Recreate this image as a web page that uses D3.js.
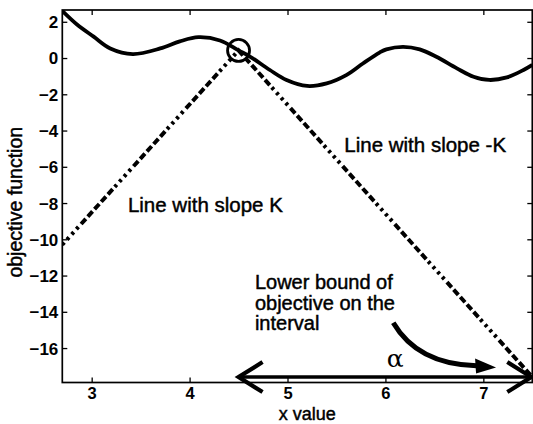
<!DOCTYPE html>
<html>
<head>
<meta charset="utf-8">
<script src="https://cdn.jsdelivr.net/npm/d3@7/dist/d3.min.js"></script>
<style>
  html, body { margin: 0; padding: 0; background: #fff; }
  svg { display: block; }
  text { font-family: "Liberation Sans", Arial, Helvetica, sans-serif; fill: #000; }
  .heavy { stroke: #000; stroke-width: 0.45px; }
</style>
</head>
<body>
<svg id="chart" width="533" height="424"></svg>
<script>
// ---- data ----
const curveX = [2.7, 2.85, 3.02, 3.19, 3.42, 3.7, 3.9, 4.09, 4.31, 4.5, 4.62, 4.82, 4.99, 5.2, 5.4, 5.6, 5.77, 5.94, 6.01, 6.18, 6.35, 6.52, 6.73, 6.9, 7.06, 7.24, 7.41, 7.5];
const curveY = [2.6, 1.85, 1.18, 0.53, 0.22, 0.53, 0.92, 1.15, 0.97, 0.42, 0.07, -0.66, -1.21, -1.54, -1.40, -0.94, -0.30, 0.30, 0.48, 0.62, 0.48, 0.07, -0.57, -1.03, -1.21, -1.07, -0.66, -0.38];
const apex = [4.5, 0.42];              // evaluated point (circle)
const slopeLineX = [2.7, 4.5, 7.5];    // lines with slope K and -K
const slopeLineY = [-10.3, 0.42, -17.6];
const intervalX = [4.5, 7.5];          // interval alpha
const lowerBound = -17.6;
const xTicks = [3, 4, 5, 6, 7];
const yTicks = [2, 0, -2, -4, -6, -8, -10, -12, -14, -16];
const xDomain = [2.7, 7.5];
const yDomain = [-17.9, 2.65];

// ---- layout ----
const svg = d3.select("#chart");
const L = 62.3, R = 532.3, T = 10, B = 382.5;
const x = d3.scaleLinear().domain(xDomain).range([L, R]);
const y = d3.scaleLinear().domain(yDomain).range([B, T]);

const plot = svg.append("g");

svg.append("defs").append("clipPath").attr("id", "clip")
  .append("rect").attr("x", L).attr("y", T).attr("width", R - L).attr("height", B - T);

// axes (inward ticks on all sides)
const tickLen = 5;
const fmt = d => d < 0 ? "\u2212" + Math.abs(d) : String(d);
const axB = d3.axisBottom(x).tickValues(xTicks).tickSize(tickLen).tickFormat(fmt);
const axL = d3.axisLeft(y).tickValues(yTicks).tickSize(tickLen).tickFormat(fmt);
const axT = d3.axisTop(x).tickValues(xTicks).tickSize(tickLen).tickFormat("");
const axR = d3.axisRight(y).tickValues(yTicks).tickSize(tickLen).tickFormat("");

function styleAxis(g) {
  g.select(".domain").remove();
  g.selectAll(".tick line").attr("stroke", "#000").attr("stroke-width", 1.3);
  g.selectAll(".tick text").style("font-size", "17px").style("font-weight", "bold")
    .style("font-family", "'Liberation Sans', Arial, sans-serif").attr("fill", "#000");
}

const gB = plot.append("g").attr("transform", `translate(0,${B})`).call(axB);
gB.selectAll(".tick line").attr("y2", -tickLen);
gB.selectAll(".tick text").attr("y", 5).attr("dy", "0.71em");
styleAxis(gB);
gB.selectAll(".tick text").style("font-size", "16.5px");

const gL = plot.append("g").attr("transform", `translate(${L},0)`).call(axL);
gL.selectAll(".tick line").attr("x2", tickLen);
gL.selectAll(".tick text").attr("x", -4).attr("dy", "0.35em");
styleAxis(gL);

const gT = plot.append("g").attr("transform", `translate(0,${T})`).call(axT);
gT.selectAll(".tick line").attr("y2", tickLen);
styleAxis(gT);

const gR = plot.append("g").attr("transform", `translate(${R},0)`).call(axR);
gR.selectAll(".tick line").attr("x2", -tickLen);
styleAxis(gR);

// box
plot.append("rect").attr("x", L).attr("y", T).attr("width", R - L).attr("height", B - T)
  .attr("fill", "none").attr("stroke", "#000").attr("stroke-width", 1.7);

const marks = plot.append("g").attr("clip-path", "url(#clip)");

// slope lines (dash-dot)
const slopePts = slopeLineX.map((d, i) => [d, slopeLineY[i]]);
marks.append("path")
  .attr("d", d3.line().x(d => x(d[0])).y(d => y(d[1]))(slopePts))
  .attr("fill", "none").attr("stroke", "#000").attr("stroke-width", 4)
  .attr("stroke-dasharray", "3,4,3,4,3,4,3,4,7,3,7,3,7,3,7,3,7,3");

// objective curve
const curvePts = curveX.map((d, i) => [d, curveY[i]]);
marks.append("path")
  .attr("d", d3.line().x(d => x(d[0])).y(d => y(d[1])).curve(d3.curveCatmullRom)(curvePts))
  .attr("fill", "none").attr("stroke", "#000").attr("stroke-width", 3.8);

// circle
plot.append("circle").attr("cx", x(apex[0])).attr("cy", y(apex[1])).attr("r", 11)
  .attr("fill", "none").attr("stroke", "#000").attr("stroke-width", 2.8);

// double arrow for interval
const ax0 = x(intervalX[0]), ax1 = x(intervalX[1]) - 1, ay = y(lowerBound);
plot.append("line").attr("x1", ax0).attr("x2", ax1).attr("y1", ay).attr("y2", ay)
  .attr("stroke", "#000").attr("stroke-width", 3.5);
const headL = 24, headW = 15;
plot.append("path")
  .attr("d", `M${ax0 + headL},${ay - headW} L${ax0},${ay} L${ax0 + headL},${ay + headW}`)
  .attr("fill", "none").attr("stroke", "#000").attr("stroke-width", 4.2).attr("stroke-linejoin", "miter");
plot.append("path")
  .attr("d", `M${ax1 - headL},${ay - headW} L${ax1},${ay} L${ax1 - headL},${ay + headW}`)
  .attr("fill", "none").attr("stroke", "#000").attr("stroke-width", 4.2).attr("stroke-linejoin", "miter");

// alpha label
plot.append("text").attr("x", x(6.1)).attr("y", y(-17.05)).attr("text-anchor", "middle")
  .style("font-size", "25px").style("font-family", "'DejaVu Serif', 'Liberation Serif', serif").text("\u03B1");

// curved annotation arrow
const c0 = [x(6.08), y(-14.6)], c1 = [x(6.33), y(-16.9)], c2 = [x(6.93), y(-16.97)];
const tip = [x(7.13), y(-17.07)];
plot.append("path")
  .attr("d", `M${c0[0]},${c0[1]} Q${c1[0]},${c1[1]} ${c2[0]},${c2[1]}`)
  .attr("fill", "none").attr("stroke", "#000").attr("stroke-width", 5);
plot.append("path")
  .attr("d", `M${tip[0]},${tip[1]} L${tip[0] - 21},${tip[1] - 9} L${tip[0] - 20},${tip[1] + 6} Z`)
  .attr("fill", "#000");

// annotations
const annFont = "20.5px";
plot.append("text").attr("class", "heavy").attr("x", x(3.37)).attr("y", y(-8.48)).style("font-size", annFont).text("Line with slope K");
plot.append("text").attr("class", "heavy").attr("x", x(5.58)).attr("y", y(-5.17)).style("font-size", annFont).text("Line with slope -K");
const lbLines = ["Lower bound of", "objective on the", "interval"];
lbLines.forEach((s, i) => {
  plot.append("text").attr("class", "heavy").attr("x", x(4.667)).attr("y", y(-12.76) + i * 20.5)
    .style("font-size", "20px").text(s);
});

// axis labels
svg.append("text").attr("class", "heavy").attr("x", (L + R) / 2 + 10).attr("y", 419.5).attr("text-anchor", "middle")
  .style("font-size", "18px").attr("fill", "#000").text("x value");
svg.append("text").attr("class", "heavy").attr("transform", `translate(22,${(T + B) / 2 + 6}) rotate(-90)`)
  .attr("text-anchor", "middle").style("font-size", "19.5px").attr("fill", "#000").text("objective function");
</script>
</body>
</html>
